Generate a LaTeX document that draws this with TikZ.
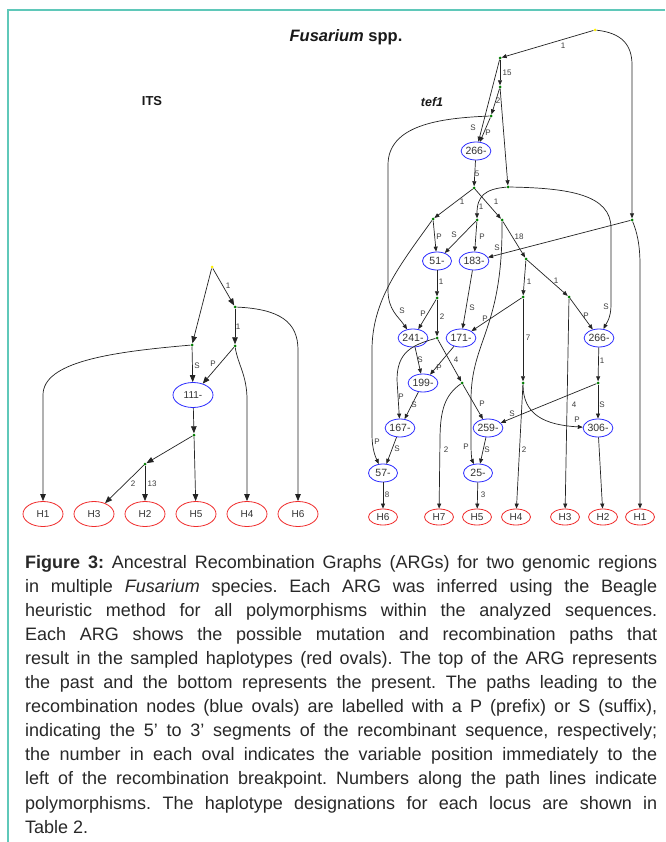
\documentclass[tikz,border=0pt]{standalone}
\usepackage{fontspec}
\setmainfont{Liberation Sans}
\usetikzlibrary{shapes.geometric,arrows.meta}
\definecolor{frameteal}{RGB}{95,200,185}
\definecolor{dotgreen}{RGB}{0,125,0}
\definecolor{linegray}{RGB}{35,35,35}
\definecolor{labgray}{RGB}{60,60,60}
\definecolor{recblue}{RGB}{45,45,255}
\definecolor{hapred}{RGB}{240,45,45}
\definecolor{captext}{RGB}{40,40,40}
\begin{document}
\frenchspacing
\begin{tikzpicture}[x=1pt,y=-1pt,
  dotnode/.style={circle,fill=dotgreen,inner sep=0pt,minimum size=3pt},
  rootnode/.style={circle,fill=yellow,inner sep=0pt,minimum size=3pt},
  recT/.style={ellipse,draw=recblue,line width=0.8pt,inner sep=0pt,minimum width=29pt,minimum height=18pt,font=\fontsize{10.5}{12}\selectfont,text=black!80},
  hapT/.style={ellipse,draw=hapred,line width=0.8pt,inner sep=0pt,minimum width=29pt,minimum height=16pt,font=\fontsize{10}{12}\selectfont,text=black!80},
  recI/.style={ellipse,draw=recblue,line width=0.8pt,inner sep=0pt,minimum width=40pt,minimum height=25pt,font=\fontsize{10}{12}\selectfont,text=black!80},
  hapI/.style={ellipse,draw=hapred,line width=0.8pt,inner sep=0pt,minimum width=40pt,minimum height=25pt,font=\fontsize{10}{12}\selectfont,text=black!80},
  edgeT/.style={draw=linegray,line width=0.7pt,-{Triangle[length=5pt,width=4pt]}},
  edgeI/.style={draw=linegray,line width=0.7pt,-{Triangle[length=7pt,width=5.5pt]}},
  lab/.style={font=\fontsize{8}{9}\selectfont,text=labgray,inner sep=0pt},
  capline/.style={anchor=base west,inner sep=0pt,font=\fontsize{18}{20}\selectfont,text=captext},
]
\useasboundingbox (0,0) rectangle (665,842);
\fill[white] (0,0) rectangle (665,842);
\draw[frameteal,line width=1.5pt] (665,10) -- (8,10) -- (8,842);

% titles
\node[font=\fontsize{16.5}{18}\selectfont\bfseries,text=black!90] (title) at (346,37) {\textit{Fusarium} spp.};
\node[font=\fontsize{13}{14}\selectfont\bfseries,text=black!90] (its) at (152,101) {ITS};
\node[font=\fontsize{12.5}{14}\selectfont\bfseries\itshape,text=black!90] (tef) at (432,102) {tef1};

% ===================== ITS =====================
\node[rootnode] (iroot) at (212,267) {};
\node[dotnode] (ia) at (235,307) {};
\node[dotnode] (ib) at (192,345) {};
\node[dotnode] (ic) at (235,346) {};
\node[recI] (i111) at (193,395) {111-};
\node[dotnode] (id) at (194,435) {};
\node[dotnode] (ie) at (145,464) {};
\node[hapI] (iH1) at (43,514) {H1};
\node[hapI] (iH3) at (94,514) {H3};
\node[hapI] (iH2) at (145,514) {H2};
\node[hapI] (iH5) at (196,514) {H5};
\node[hapI] (iH4) at (247,514) {H4};
\node[hapI] (iH6) at (298,514) {H6};

\draw[edgeI] (iroot) -- (ia);
\draw[edgeI] (iroot) -- (ib);
\draw[edgeI] (ia) -- (ic);
\draw[edgeI] (ia) .. controls (280,309) and (298,322) .. (298,350) -- (iH6);
\draw[edgeI] (ib) .. controls (110,352) and (43,362) .. (43,395) -- (iH1);
\draw[edgeI] (ib) -- (i111);
\draw[edgeI] (ic) -- (i111);
\draw[edgeI] (ic) .. controls (238,365) and (247,375) .. (247,400) -- (iH4);
\draw[edgeI] (i111) -- (id);
\draw[edgeI] (id) -- (ie);
\draw[edgeI] (id) -- (iH5);
\draw[edgeI] (ie) -- (iH3);
\draw[edgeI] (ie) -- (iH2);

\node[lab] (il1) at (228,286) {1};
\node[lab] (il2) at (238,327) {1};
\node[lab] (il3) at (197,366) {S};
\node[lab] (il4) at (213,364) {P};
\node[lab] (il5) at (133,484) {2};
\node[lab] (il6) at (152,484) {13};

% ===================== tef1 =====================
\node[rootnode] (troot) at (595,30) {};
\node[dotnode] (tA) at (500,58) {};
\node[dotnode] (tB) at (500,87) {};
\node[dotnode] (tC) at (491,116) {};
\node[dotnode] (tD) at (508,187) {};
\node[dotnode] (tR) at (632,220) {};
\node[recT] (t266) at (476,151) {266-};
\node[dotnode] (tE) at (474,188) {};
\node[dotnode] (tF) at (433,219) {};
\node[dotnode] (tHn) at (477,220) {};
\node[dotnode] (tG) at (502,220) {};
\node[recT] (t51) at (437,261) {51-};
\node[recT] (t183) at (474,261) {183-};
\node[dotnode] (tI) at (526,259) {};
\node[dotnode] (tJ) at (523,297) {};
\node[dotnode] (tK) at (569,297) {};
\node[dotnode] (tN) at (437,298) {};
\node[dotnode] (tO) at (437,338) {};
\node[recT] (t241) at (413,338) {241-};
\node[recT] (t171) at (461,338) {171-};
\node[recT] (t266r) at (599,338) {266-};
\node[dotnode] (tL) at (523,383) {};
\node[dotnode] (tM) at (598,383) {};
\node[dotnode] (tQ) at (462,383) {};
\node[recT] (t199) at (423,383) {199-};
\node[recT] (t167) at (400,428) {167-};
\node[recT] (t259) at (488,428) {259-};
\node[recT] (t306) at (598,428) {306-};
\node[recT] (t57) at (383,473) {57-};
\node[recT] (t25) at (478,473) {25-};
\node[hapT] (tH6) at (383,517) {H6};
\node[hapT] (tH7) at (439,517) {H7};
\node[hapT] (tH5) at (477,517) {H5};
\node[hapT] (tH4) at (516,517) {H4};
\node[hapT] (tH3) at (565,517) {H3};
\node[hapT] (tH2) at (603,517) {H2};
\node[hapT] (tH1) at (640,517) {H1};

\draw[edgeT] (troot) -- (tA);
\draw[edgeT] (troot) .. controls (622,33) and (632,45) .. (632,65) -- (tR);
\draw[edgeT] (tA) -- (tB);
\draw[edgeT] (tA) -- (t266);
\draw[edgeT] (tB) -- (tC);
\draw[edgeT] (tC) -- (t266);
\draw[edgeT] (tB) -- (tD);
\draw[edgeT] (tC) .. controls (440,118) and (388,125) .. (388,165) -- (388,290) .. controls (388,310) and (398,316) .. (t241);
\draw[edgeT] (t266) -- (tE);
\draw[edgeT] (tE) -- (tF);
\draw[edgeT] (tE) -- (tG);
\draw[edgeT] (tD) .. controls (485,189) and (477,196) .. (tHn);
\draw[edgeT] (tD) .. controls (570,188) and (611,195) .. (611,228) -- (611,305) .. controls (611,318) and (606,324) .. (t266r);
\draw[edgeT] (tF) -- (t51);
\draw[edgeT] (tF) .. controls (400,265) and (372,300) .. (372,350) -- (372,435) .. controls (372,450) and (376,458) .. (t57);
\draw[edgeT] (tHn) -- (t51);
\draw[edgeT] (tHn) -- (t183);
\draw[edgeT] (tG) -- (tI);
\draw[edgeT] (tG) .. controls (503,330) and (471,340) .. (471,400) -- (471,445) .. controls (471,455) and (472,460) .. (t25);
\draw[edgeT] (tR) -- (t183);
\draw[edgeT] (tR) .. controls (637,232) and (640,245) .. (640,265) -- (tH1);
\draw[edgeT] (tI) -- (tJ);
\draw[edgeT] (tI) -- (tK);
\draw[edgeT] (t51) -- (tN);
\draw[edgeT] (t183) -- (t171);
\draw[edgeT] (tN) -- (t241);
\draw[edgeT] (tN) -- (tO);
\draw[edgeT] (tJ) -- (t171);
\draw[edgeT] (tJ) -- (tL);
\draw[edgeT] (tK) -- (t266r);
\draw[edgeT] (tK) -- (tH3);
\draw[edgeT] (t266r) -- (tM);
\draw[edgeT] (tM) -- (t306);
\draw[edgeT] (tM) -- (t259);
\draw[edgeT] (tL) .. controls (523,415) and (545,425) .. (t306);
\draw[edgeT] (tL) -- (tH4);
\draw[edgeT] (t241) -- (t199);
\draw[edgeT] (t171) -- (t199);
\draw[edgeT] (tO) .. controls (412,345) and (397,352) .. (397,380) -- (t167);
\draw[edgeT] (tO) -- (tQ);
\draw[edgeT] (tQ) -- (t259);
\draw[edgeT] (tQ) .. controls (445,395) and (440,410) .. (440,440) -- (tH7);
\draw[edgeT] (t199) -- (t167);
\draw[edgeT] (t167) -- (t57);
\draw[edgeT] (t259) -- (t25);
\draw[edgeT] (t57) -- (tH6);
\draw[edgeT] (t25) -- (tH5);
\draw[edgeT] (t306) -- (tH2);

\node[lab] (tl1) at (563,46) {1};
\node[lab] (tl2) at (507,73) {15};
\node[lab] (tl3) at (473,128) {S};
\node[lab] (tl4) at (498,101) {2};
\node[lab] (tl5) at (488,133) {P};
\node[lab] (tl6) at (402,311) {S};
\node[lab] (tl7) at (477,174) {5};
\node[lab] (tl8) at (462,202) {1};
\node[lab] (tl9) at (496,202) {1};
\node[lab] (tl10) at (481,207) {1};
\node[lab] (tl11) at (606,307) {S};
\node[lab] (tl12) at (439,237) {P};
\node[lab] (tl13) at (377,442) {P};
\node[lab] (tl14) at (454,235) {S};
\node[lab] (tl15) at (482,237) {P};
\node[lab] (tl16) at (519,237) {18};
\node[lab] (tl17) at (466,447) {P};
\node[lab] (tl18) at (497,248) {S};
\node[lab] (tl19) at (529,282) {1};
\node[lab] (tl20) at (556,281) {1};
\node[lab] (tl21) at (441,282) {1};
\node[lab] (tl22) at (472,308) {S};
\node[lab] (tl23) at (423,314) {P};
\node[lab] (tl24) at (442,317) {2};
\node[lab] (tl25) at (485,319) {P};
\node[lab] (tl26) at (528,338) {7};
\node[lab] (tl27) at (586,316) {P};
\node[lab] (tl28) at (574,405) {4};
\node[lab] (tl29) at (602,361) {1};
\node[lab] (tl30) at (602,405) {S};
\node[lab] (tl31) at (512,414) {S};
\node[lab] (tl32) at (577,420) {P};
\node[lab] (tl33) at (524,450) {2};
\node[lab] (tl34) at (420,360) {S};
\node[lab] (tl35) at (439,368) {P};
\node[lab] (tl36) at (401,397) {P};
\node[lab] (tl37) at (456,360) {4};
\node[lab] (tl38) at (482,404) {P};
\node[lab] (tl39) at (446,450) {2};
\node[lab] (tl40) at (414,405) {S};
\node[lab] (tl41) at (397,449) {S};
\node[lab] (tl42) at (487,450) {S};
\node[lab] (tl43) at (387,495) {8};
\node[lab] (tl44) at (483,495) {3};

% ===================== caption =====================
\node[capline] (c1) at (25,568) {\makebox[632pt][s]{\textbf{Figure 3:} Ancestral Recombination Graphs (ARGs) for two genomic regions}};
\node[capline] (c2) at (25,592.1) {\makebox[632pt][s]{in multiple \textit{Fusarium} species. Each ARG was inferred using the Beagle}};
\node[capline] (c3) at (25,616.2) {\makebox[632pt][s]{heuristic method for all polymorphisms within the analyzed sequences.}};
\node[capline] (c4) at (25,640.3) {\makebox[632pt][s]{Each ARG shows the possible mutation and recombination paths that}};
\node[capline] (c5) at (25,664.4) {\makebox[632pt][s]{result in the sampled haplotypes (red ovals). The top of the ARG represents}};
\node[capline] (c6) at (25,688.5) {\makebox[632pt][s]{the past and the bottom represents the present. The paths leading to the}};
\node[capline] (c7) at (25,712.6) {\makebox[632pt][s]{recombination nodes (blue ovals) are labelled with a P (prefix) or S (suffix),}};
\node[capline] (c8) at (25,736.7) {\makebox[632pt][s]{indicating the 5’ to 3’ segments of the recombinant sequence, respectively;}};
\node[capline] (c9) at (25,760.8) {\makebox[632pt][s]{the number in each oval indicates the variable position immediately to the}};
\node[capline] (c10) at (25,784.9) {\makebox[632pt][s]{left of the recombination breakpoint. Numbers along the path lines indicate}};
\node[capline] (c11) at (25,809) {\makebox[632pt][s]{polymorphisms. The haplotype designations for each locus are shown in}};
\node[capline] (c12) at (25,833.1) {Table 2.};
\end{tikzpicture}
\end{document}
